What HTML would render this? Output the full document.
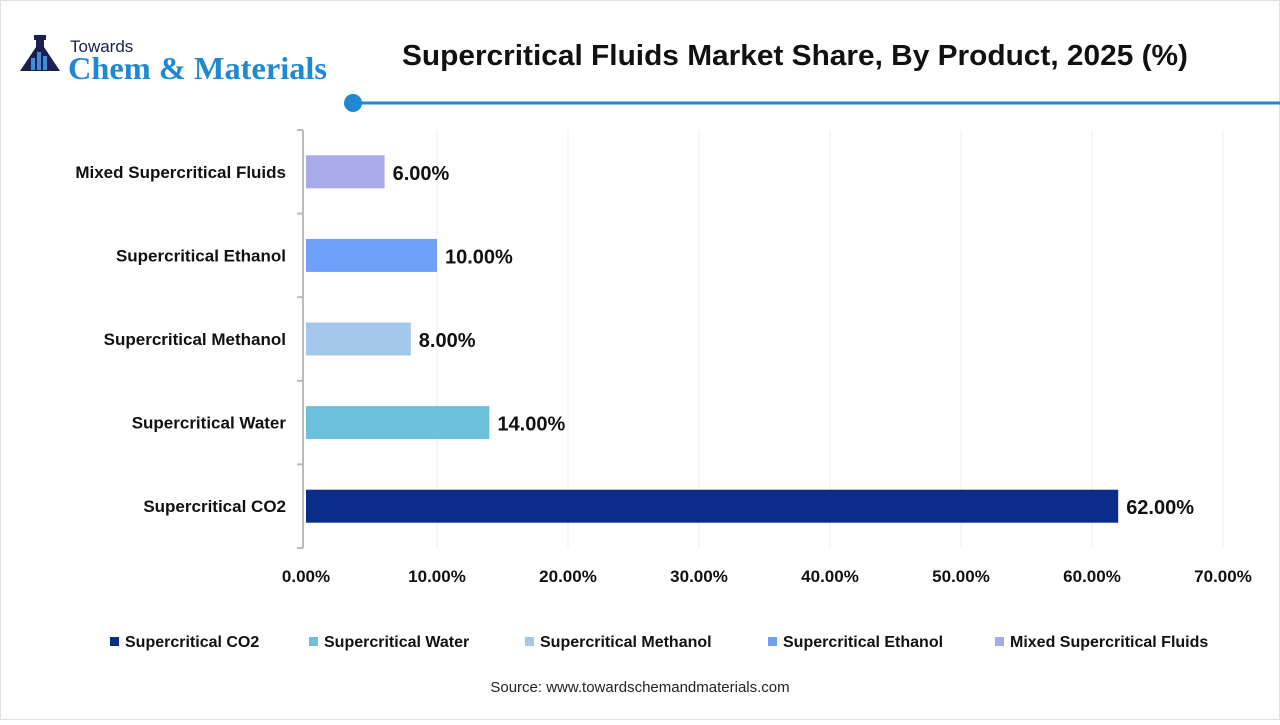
<!DOCTYPE html>
<html><head><meta charset="utf-8"><style>
body{margin:0;width:1280px;height:720px;background:#fff;overflow:hidden;font-family:"Liberation Sans",sans-serif;}
</style></head><body>
<svg width="1280" height="720" xmlns="http://www.w3.org/2000/svg">
<rect x="0.5" y="0.5" width="1279" height="719" fill="none" stroke="#e0e0e0"/>
<g>
<path d="M36 38 h8 v9 l16 24 h-40 l16 -24z" fill="#1a2050"/>
<rect x="34" y="35" width="12" height="5" fill="#1a2050"/>
<rect x="31" y="58" width="4" height="12" fill="#3f8fd8"/><rect x="37" y="52" width="4" height="18" fill="#3f8fd8"/><rect x="43" y="56" width="4" height="14" fill="#3f8fd8"/>
<text x="70" y="52" font-size="17" fill="#1a2050">Towards</text>
<text x="68" y="79" font-size="32" font-family="Liberation Serif,serif" font-weight="bold" fill="#1e88d0" textLength="259" lengthAdjust="spacingAndGlyphs">Chem &amp; Materials</text>
</g>
<text x="795" y="65" font-size="29" font-weight="bold" text-anchor="middle" fill="#111" textLength="786" lengthAdjust="spacingAndGlyphs">Supercritical Fluids Market Share, By Product, 2025 (%)</text>
<line x1="353" y1="103" x2="1280" y2="103" stroke="#1e88d0" stroke-width="3"/>
<circle cx="353" cy="103" r="9" fill="#1e88d0"/>
<g id="grid"></g><g id="bars"></g><g id="ticks"></g>
<text x="640" y="692" font-size="15" text-anchor="middle" fill="#222">Source: www.towardschemandmaterials.com</text>
<g id="legend"></g>
</svg>
<script>
const categories=["Supercritical CO2","Supercritical Water","Supercritical Methanol","Supercritical Ethanol","Mixed Supercritical Fluids"];
const values=[62,14,8,10,6];
const colors=["#0a2d8a","#6cc0dc","#a4c8ea","#6f9ff8","#a8aaea"];
const xTicks=[0,10,20,30,40,50,60,70];
const NS="http://www.w3.org/2000/svg";
const x0=306,pxPer=13.1,yTop=130,yBot=548,band=(yBot-yTop)/5,barH=33;
const xs=v=>x0+v*pxPer;
const yc=i=>yBot-band*(i+0.5);
function mk(t,a,p){const e=document.createElementNS(NS,t);for(const k in a)e.setAttribute(k,a[k]);p.appendChild(e);return e;}
const grid=document.getElementById('grid'),bars=document.getElementById('bars'),ticks=document.getElementById('ticks'),legend=document.getElementById('legend');
xTicks.forEach(t=>{
 if(t>0){const l=mk('line',{x1:xs(t),x2:xs(t),y1:yTop,y2:yBot,stroke:'#ececec'},grid);
 
 }
 const tx=mk('text',{x:xs(t),y:582,'font-size':17,'font-weight':'bold','text-anchor':'middle',fill:'#111'},ticks);tx.textContent=t.toFixed(2)+'%';
 
 
});
const ax=mk('line',{x1:x0-3,x2:x0-3,y1:yTop,y2:yBot,stroke:'#bbb','stroke-width':2},ticks);


for(let i=0;i<=5;i++){const tk=mk('line',{x1:x0-9,x2:x0-3,y1:yTop+band*i,y2:yTop+band*i,stroke:'#bbb','stroke-width':2},ticks);
 
 }
categories.forEach((c,i)=>{
 const y=yc(i);
 const r=mk('rect',{x:x0,y:y-barH/2,width:xs(values[i])-x0,height:barH,fill:colors[i]},bars);
 
 
 const v=mk('text',{x:xs(values[i])+8,y:y+8,'font-size':20,'font-weight':'bold',fill:'#111'},bars);v.textContent=values[i].toFixed(2)+'%';
 
 
 const l=mk('text',{x:286,y:y+6,'font-size':17,'font-weight':'bold','text-anchor':'end',fill:'#111'},bars);l.textContent=c;
 
 
});
const lx=[110,309,525,768,995];
categories.forEach((c,i)=>{
 const g=mk('g',{},legend);
 
 
 mk('rect',{x:lx[i],y:637,width:9,height:9,fill:colors[i]},g);
 const t=mk('text',{x:lx[i]+15,y:647,'font-size':16,'font-weight':'bold',fill:'#111'},g);t.textContent=c;
});
</script>
</body></html>
